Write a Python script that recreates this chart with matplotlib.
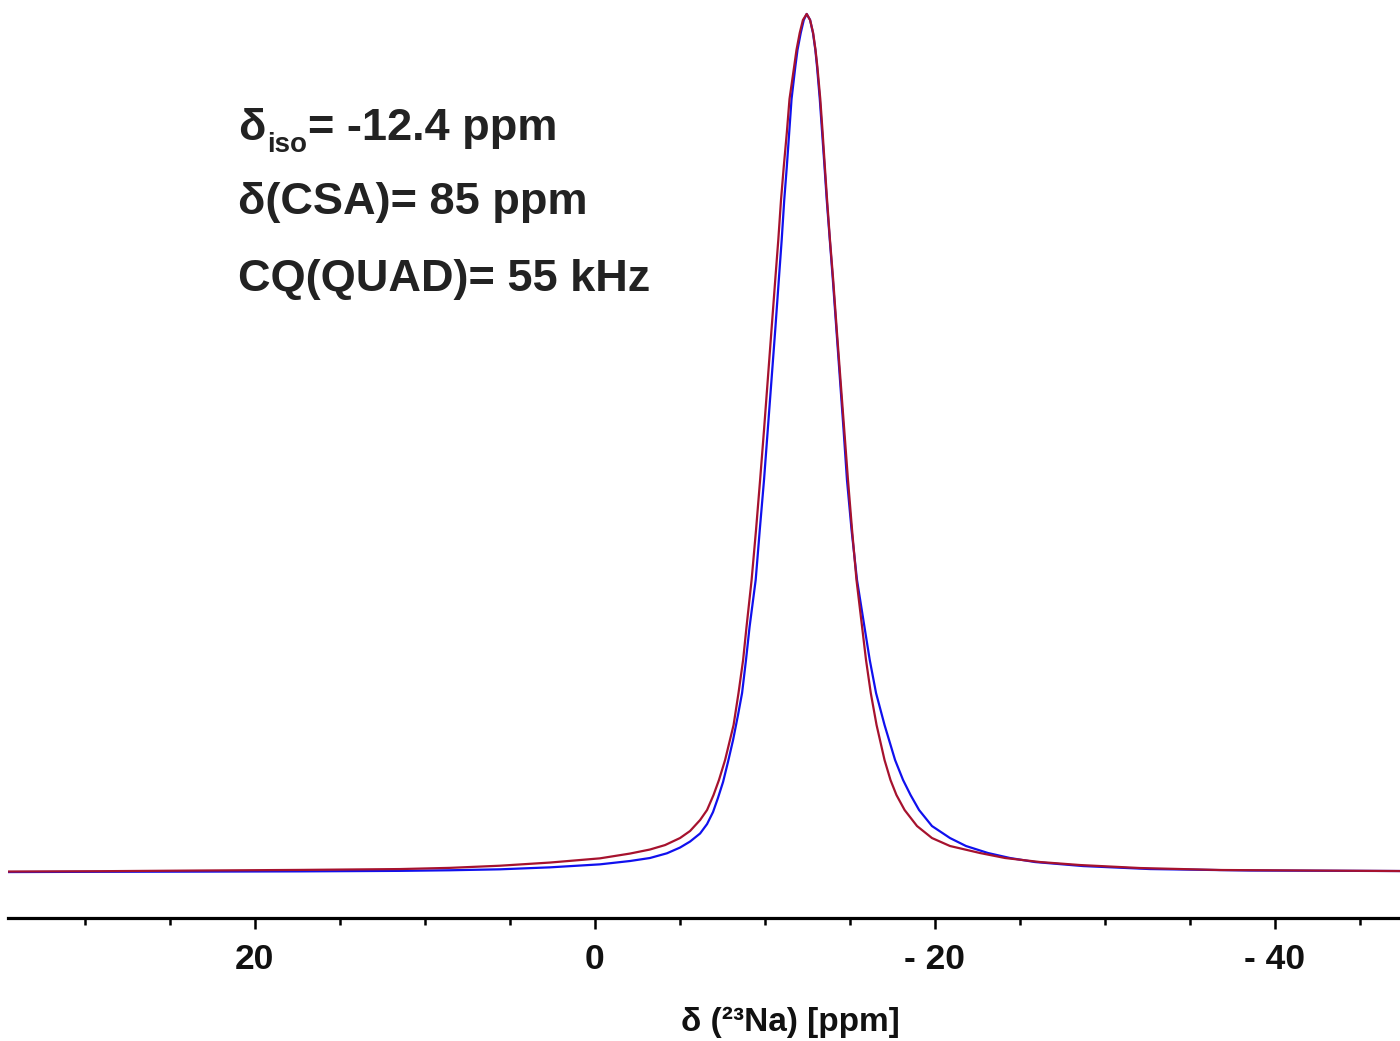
import matplotlib
matplotlib.use("Agg")
import matplotlib.pyplot as plt
from matplotlib.ticker import MultipleLocator, FixedLocator

# 23Na MAS NMR line: experimental spectrum (blue) and simulated fit (dark red)
exp_ppm = [34.50, 29.09, 23.21, 17.32, 11.44, 8.50, 5.56, 2.62, -0.32, -2.09,
           -3.26, -4.26, -5.03, -5.62, -6.21, -6.62, -6.97, -7.26, -7.56, -7.85,
           -8.15, -8.44, -8.68, -8.91, -9.12, -9.48, -9.72, -9.97, -10.19, -10.41,
           -10.63, -10.84, -11.01, -11.16, -11.31, -11.45, -11.59, -11.81, -11.94,
           -12.13, -12.31, -12.48, -12.68, -12.85, -12.99, -13.09, -13.25, -13.39,
           -13.53, -13.66, -13.84, -14.02, -14.23, -14.44, -14.65, -14.85, -15.12,
           -15.44, -15.88, -16.19, -16.56, -17.06, -17.68, -18.15, -18.59, -19.09,
           -19.85, -20.91, -21.85, -23.15, -24.44, -25.91, -28.74, -32.68, -38.56,
           -47.38]
exp_int = [-0.0012, -0.0009, -0.0007, -0.0004, 0.0002, 0.0009, 0.0020, 0.0043, 0.0078, 0.0117,
           0.0152, 0.0207, 0.0274, 0.0344, 0.0438, 0.0548, 0.0688, 0.0852, 0.1038, 0.1272,
           0.1529, 0.1820, 0.2077, 0.2462, 0.2847, 0.3396, 0.3979, 0.4562, 0.5146, 0.5729,
           0.6313, 0.6896, 0.7363, 0.7830, 0.8215, 0.8611, 0.9008, 0.9382, 0.9580,
           0.9778, 0.9930, 1.0000, 0.9930, 0.9778, 0.9580, 0.9382, 0.9008, 0.8611,
           0.8215, 0.7830, 0.7363, 0.6896, 0.6313, 0.5729, 0.5146, 0.4562, 0.3979,
           0.3396, 0.2847, 0.2462, 0.2077, 0.1704, 0.1295, 0.1062, 0.0887, 0.0712,
           0.0525, 0.0385, 0.0292, 0.0210, 0.0152, 0.0105, 0.0058, 0.0023, 0.0006,
           0.0000]

fit_ppm = [34.50, 29.09, 23.21, 17.32, 11.44, 8.50, 5.56, 2.62, -0.32, -2.09,
           -3.26, -4.15, -5.03, -5.62, -6.21, -6.62, -7.00, -7.32, -7.68, -8.18,
           -8.47, -8.74, -8.94, -9.24, -9.50, -9.74, -9.97, -10.19, -10.41, -10.63,
           -10.81, -10.97, -11.13, -11.31, -11.47, -11.74, -11.88, -12.07, -12.26,
           -12.48, -12.68, -12.86, -13.00, -13.11, -13.28, -13.42, -13.55, -13.68,
           -13.85, -14.04, -14.25, -14.47, -14.69, -14.91, -15.15, -15.41, -15.74,
           -15.97, -16.25, -16.59, -17.06, -17.41, -17.76, -18.24, -18.97, -19.85,
           -20.91, -22.68, -24.15, -26.21, -28.56, -32.09, -36.79, -47.38]
fit_int = [-0.0006, -0.0002, 0.0006, 0.0013, 0.0023, 0.0037, 0.0062, 0.0099, 0.0148, 0.0204,
           0.0251, 0.0303, 0.0385, 0.0467, 0.0595, 0.0712, 0.0887, 0.1062, 0.1295, 0.1704,
           0.2077, 0.2462, 0.2847, 0.3396, 0.3979, 0.4562, 0.5146, 0.5729, 0.6313, 0.6896,
           0.7363, 0.7830, 0.8215, 0.8611, 0.9008, 0.9382, 0.9580, 0.9778, 0.9930,
           1.0000, 0.9930, 0.9778, 0.9580, 0.9382, 0.9008, 0.8611, 0.8215, 0.7830,
           0.7363, 0.6896, 0.6313, 0.5729, 0.5146, 0.4562, 0.3979, 0.3396, 0.2847,
           0.2462, 0.2077, 0.1704, 0.1295, 0.1062, 0.0887, 0.0712, 0.0525, 0.0385,
           0.0292, 0.0210, 0.0152, 0.0105, 0.0070, 0.0035, 0.0012, 0.0000]

major_ticks = [20, 0, -20, -40]
major_labels = ["20", "0", "- 20", "- 40"]

iso_parts = ("δ", "iso", "= -12.4 ppm")
other_lines = ["δ(CSA)= 85 ppm", "CQ(QUAD)= 55 kHz"]
xlabel = "δ (²³Na) [ppm]"

W, H = 1400, 1041
fig = plt.figure(figsize=(W / 100, H / 100), dpi=100)
ax = fig.add_axes([8 / W, 1 - 918 / H, 1 - 8 / W, 918 / H])

ax.plot(exp_ppm, exp_int, color="#1010ee", lw=1.6,
        solid_joinstyle="round", solid_capstyle="round")
ax.plot(fit_ppm, fit_int, color="#a6122e", lw=1.6,
        solid_joinstyle="round", solid_capstyle="round")

ax.set_xlim(34.5, -47.38)
ax.set_ylim(-0.0548, 1.0163)

for side in ("top", "right", "left"):
    ax.spines[side].set_visible(False)
ax.spines["bottom"].set_linewidth(2.3)
ax.set_yticks([])

ax.xaxis.set_major_locator(FixedLocator(major_ticks))
ax.xaxis.set_minor_locator(MultipleLocator(5))
ax.set_xticklabels(major_labels)
ax.tick_params(axis="x", which="major", direction="out", length=8, width=1.8, pad=10)
ax.tick_params(axis="x", which="minor", direction="out", length=5, width=1.8)

tick_font = ["Liberation Sans Narrow", "Liberation Sans"]
for lab in ax.get_xticklabels():
    lab.set_family(tick_font)
    lab.set_fontweight("bold")
    lab.set_fontsize(25.5)
    lab.set_color("#111111")

fig.text(790 / W, 1 - 1022 / H, xlabel, ha="center", va="center",
         fontsize=24, fontweight="bold", family=tick_font, color="#111111")

# parameter block: first line built from pieces so the subscript sits low
txt_kw = dict(fontweight="bold", family="Liberation Sans", color="#222222",
              ha="left", va="baseline")
renderer = fig.canvas.get_renderer()
x0 = 238 / W
t_delta = fig.text(x0, 1 - 140 / H, iso_parts[0], fontsize=32.5, **txt_kw)
x1 = t_delta.get_window_extent(renderer).x1 / W + 2 / W
t_sub = fig.text(x1, 1 - 152 / H, iso_parts[1], fontsize=20, **txt_kw)
x2 = t_sub.get_window_extent(renderer).x1 / W + 1 / W
fig.text(x2, 1 - 140 / H, iso_parts[2], fontsize=32.5, **txt_kw)

for txt, yb in zip(other_lines, [214, 291]):
    fig.text(x0, 1 - yb / H, txt, fontsize=32.5, **txt_kw)

fig.savefig("out.png", dpi=100, facecolor="white")
